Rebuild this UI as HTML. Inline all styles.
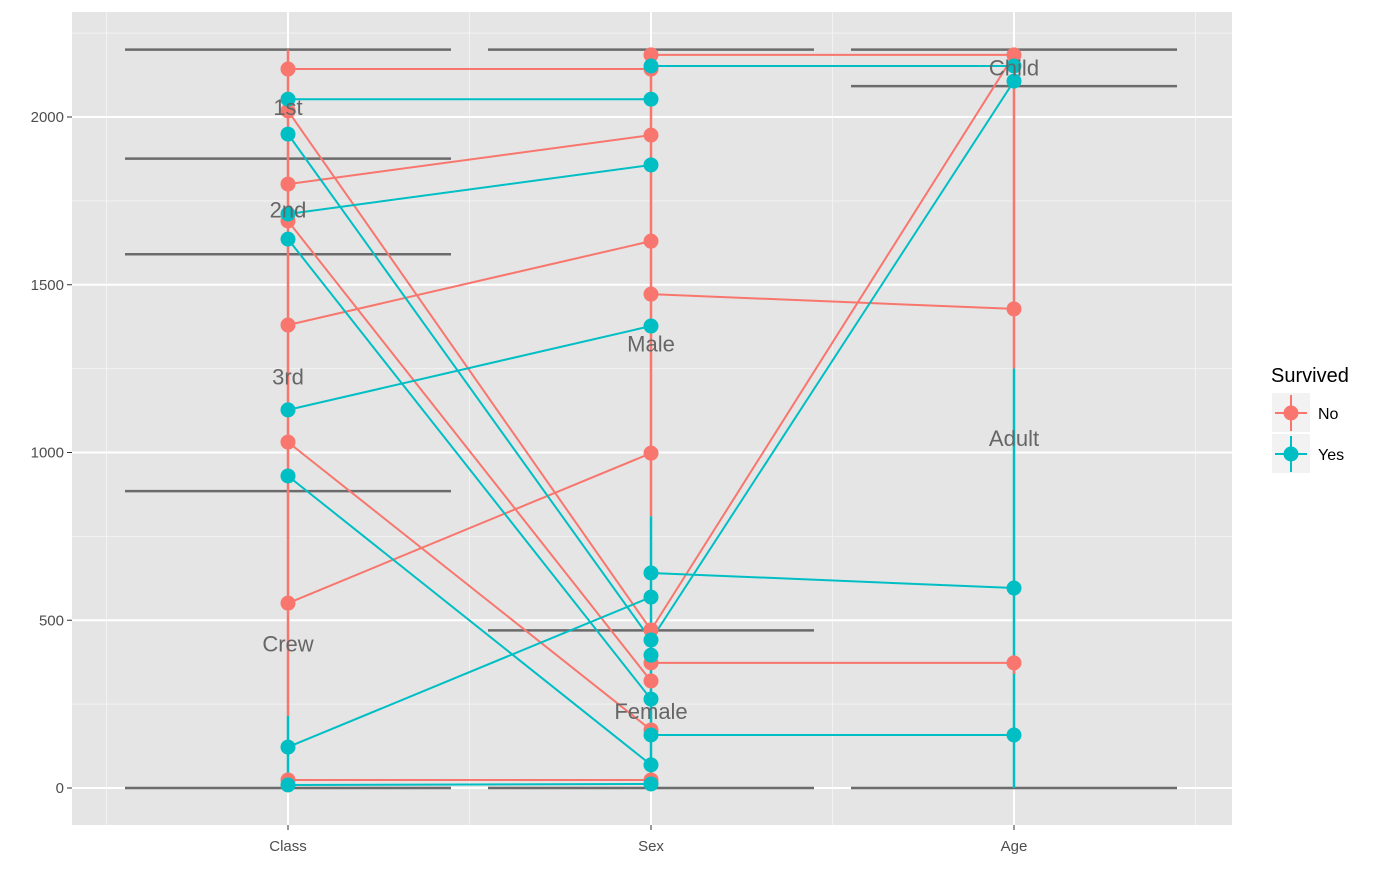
<!DOCTYPE html>
<html><head><meta charset="utf-8"><style>
body{margin:0;background:#fff;font-family:"Liberation Sans",sans-serif}
</style></head><body>
<svg id="c" width="1400" height="865" xmlns="http://www.w3.org/2000/svg"></svg>
<script>
const axes = ["Class","Sex","Age"];
const yTicks = [0,500,1000,1500,2000];
const groups = ["No","Yes"];
const colors = {No:"#F8766D",Yes:"#00BFC4"};
const boundaries = [[0,885,1591,1876,2201],[0,470,2201],[0,2092,2201]];
const catLabels = [["Crew",430],["3rd",1226],["2nd",1724],["1st",2030]];
const sexLabels = [["Female",230],["Male",1325]];
const ageLabels = [["Adult",1043],["Child",2147]];
const segs = [
 [0,2143,1,2143,"No"],[0,1800,1,1946,"No"],[0,1380,1,1630,"No"],[0,551,1,998,"No"],[0,24,1,24,"No"],
 [0,2018,1,471,"No"],[0,1690,1,319,"No"],[0,1031,1,173,"No"],
 [0,2053,1,2053,"Yes"],[0,1711,1,1857,"Yes"],[0,1127,1,1377,"Yes"],[0,122,1,569,"Yes"],[0,9,1,12,"Yes"],
 [0,1949,1,441,"Yes"],[0,1636,1,265,"Yes"],[0,930,1,69,"Yes"],
 [1,2185,2,2185,"No"],[1,1472,2,1428,"No"],[1,373,2,373,"No"],[1,471,2,2185,"No"],
 [1,2152,2,2152,"Yes"],[1,641,2,596,"Yes"],[1,158,2,158,"Yes"],[1,441,2,2107,"Yes"]
];
const ranges = [[0,215,2201,"No"],[0,0,215,"Yes"],[1,810,2201,"No"],[1,0,810,"Yes"],
 [2,1250,2107,"No"],[2,0,1250,"Yes"],[2,340,395,"No"]];
const points = [
 [0,[2143,2018,1800,1690,1380,1031,551,24],"No"],[0,[2053,1949,1711,1636,1127,930,122,9],"Yes"],
 [1,[2185,2143,1946,1630,1472,998,471,373,319,173,24],"No"],[1,[2152,2053,1857,1377,641,569,441,396,265,158,69,12],"Yes"],
 [2,[2185,1428,373],"No"],[2,[2152,2107,596,158],"Yes"]
];
const svg=document.getElementById('c');const NS="http://www.w3.org/2000/svg";
const L=72,R=1232,T=12,B=825;
const X=i=>288+i*363;
const Y=v=>788-v*0.3355;
function el(t,a,p){const e=document.createElementNS(NS,t);for(const k in a)e.setAttribute(k,a[k]);(p||svg).appendChild(e);return e;}
let bg=el('rect',{x:L,y:T,width:R-L,height:B-T,fill:"#E5E5E5"});


for(let i=0;i<yTicks.length-1;i++){el('line',{x1:L,x2:R,y1:Y(yTicks[i]+250),y2:Y(yTicks[i]+250),stroke:"#F2F2F2","stroke-width":1});}
el('line',{x1:L,x2:R,y1:Y(2250),y2:Y(2250),stroke:"#F2F2F2","stroke-width":1});
for(let i=0;i<=3;i++){el('line',{x1:X(i)-181.5,x2:X(i)-181.5,y1:T,y2:B,stroke:"#F2F2F2","stroke-width":1});}
yTicks.forEach(v=>{const g=el('line',{x1:L,x2:R,y1:Y(v),y2:Y(v),stroke:"#fff","stroke-width":2});


const t=el('text',{x:64,y:Y(v)+5,"text-anchor":"end","font-size":15,fill:"#4D4D4D"});t.textContent=v;


el('line',{x1:67,x2:72,y1:Y(v),y2:Y(v),stroke:"#333"});});
axes.forEach((a,i)=>{el('line',{x1:X(i),x2:X(i),y1:T,y2:B,stroke:"#fff","stroke-width":2});
el('line',{x1:X(i),x2:X(i),y1:B,y2:B+5,stroke:"#333"});
const t=el('text',{x:X(i),y:851,"text-anchor":"middle","font-size":15,fill:"#4D4D4D"});t.textContent=a;

});
boundaries.forEach((bs,i)=>bs.forEach(v=>{const l=el('line',{x1:X(i)-163,x2:X(i)+163,y1:Y(v),y2:Y(v),stroke:"#6b6b6b","stroke-width":2.5});

}));
segs.forEach(s=>{const l=el('line',{x1:X(s[0]),y1:Y(s[1]),x2:X(s[2]),y2:Y(s[3]),stroke:colors[s[4]],"stroke-width":2});

});
ranges.forEach(r=>{const l=el('line',{x1:X(r[0]),x2:X(r[0]),y1:Y(r[1]),y2:Y(r[2]),stroke:colors[r[3]],"stroke-width":2.5});

});
points.forEach(p=>p[1].forEach(v=>{const c=el('circle',{cx:X(p[0]),cy:Y(v),r:7.5,fill:colors[p[2]]});

}));
[[0,catLabels],[1,sexLabels],[2,ageLabels]].forEach(([i,ls])=>ls.forEach(([n,v])=>{const t=el('text',{x:X(i),y:Y(v)+8,"text-anchor":"middle","font-size":22,fill:"#666"});t.textContent=n;

}));
const lt=el('text',{x:1271,y:382,"font-size":20,fill:"#000"});lt.textContent="Survived";


groups.forEach((g,i)=>{const y=413+i*41;
el('rect',{x:1272,y:y-20,width:38,height:39,fill:"#F2F2F2"});
el('line',{x1:1275,x2:1307,y1:y,y2:y,stroke:colors[g],"stroke-width":2});
el('line',{x1:1291,x2:1291,y1:y-18,y2:y+18,stroke:colors[g],"stroke-width":2});
const c=el('circle',{cx:1291,cy:y,r:7.5,fill:colors[g]});


const t=el('text',{x:1318,y:y+6,"font-size":16,fill:"#000"});t.textContent=g;

});
</script>
</body></html>
